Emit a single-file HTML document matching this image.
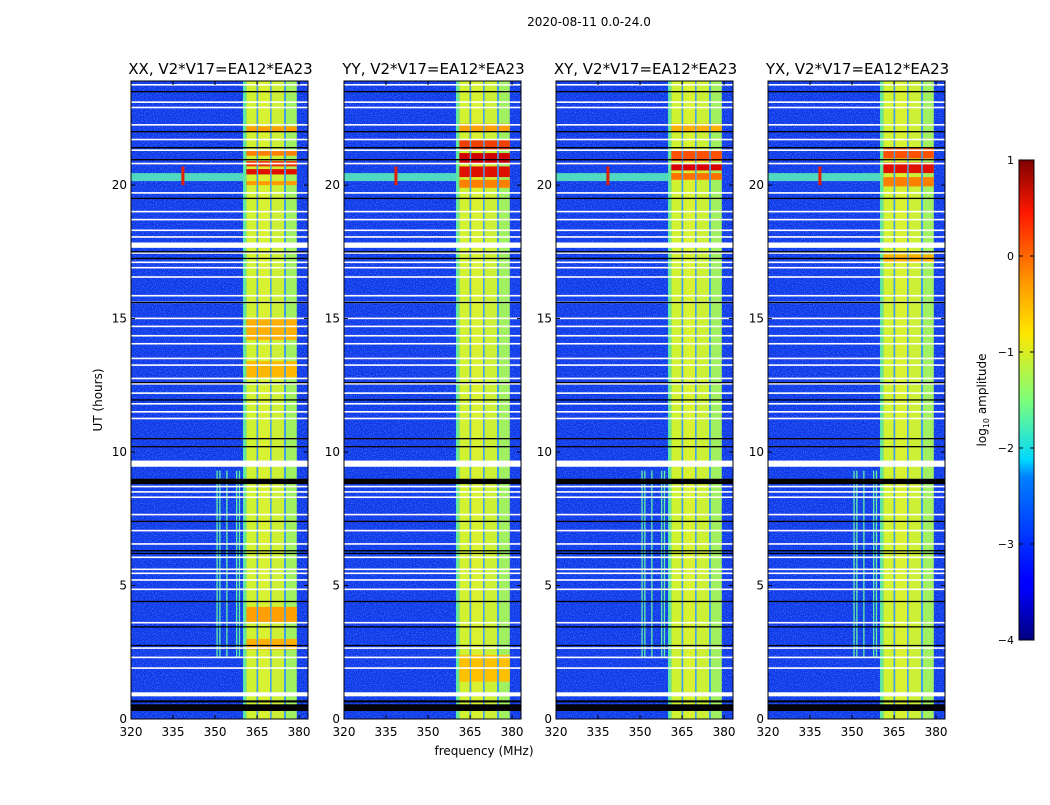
<!DOCTYPE html>
<html><head><meta charset="utf-8">
<style>
body{margin:0;background:#fff;}
svg text{font-family:"DejaVu Sans","Liberation Sans",sans-serif;fill:#000;}
</style></head>
<body>
<svg id="chart" width="1050" height="800" xmlns="http://www.w3.org/2000/svg">
<defs>
<linearGradient id="jet" x1="0" y1="1" x2="0" y2="0">
<stop offset="0" stop-color="#00007f"/><stop offset="0.11" stop-color="#0000ff"/>
<stop offset="0.125" stop-color="#0000ff"/><stop offset="0.34" stop-color="#0080ff"/>
<stop offset="0.375" stop-color="#00d8ff"/><stop offset="0.5" stop-color="#7dff7a"/>
<stop offset="0.64" stop-color="#ffe600"/><stop offset="0.75" stop-color="#ff9400"/>
<stop offset="0.89" stop-color="#ff1800"/><stop offset="1" stop-color="#7f0000"/>
</linearGradient>
<filter id="noise" x="0" y="0" width="1" height="1">
<feTurbulence type="fractalNoise" baseFrequency="0.9" numOctaves="1" seed="3"/>
<feColorMatrix values="0 0 0 0 0.15  0 0 0 0 0.45  0 0 0 0 1  0 0 0 1.4 -0.6"/>
<feComposite in2="SourceGraphic" operator="in"/>
</filter>
</defs>
<text x="589" y="26" font-size="12" text-anchor="middle">2020-08-11 0.0-24.0</text>
<text x="484" y="755" font-size="12" text-anchor="middle">frequency (MHz)</text>
<text transform="translate(102,400) rotate(-90)" font-size="12" text-anchor="middle">UT (hours)</text>
<g id="panels"></g>
<g id="cbar"></g>
</svg>
<script>
const panelTitles = ["XX, V2*V17=EA12*EA23","YY, V2*V17=EA12*EA23","XY, V2*V17=EA12*EA23","YX, V2*V17=EA12*EA23"];
const xTicks = [320,335,350,365,380];
const yTicks = [0,5,10,15,20];
const freqRange = [320,383.2];
const timeRange = [0,23.9];
const bandSegments = [[360,361.2,"#5ee8a0"],[361.2,364.9,"#d0f230"],[364.9,365.4,"#3aa0ff"],[365.4,369.7,"#d8f232"],[369.7,370.2,"#40a8ff"],[370.2,374.7,"#ccf035"],[374.7,375.3,"#38a0ff"],[375.3,379.2,"#a0f060"]];
const whiteLines = [23.75,23.1,22.9,22.25,21.7,21.3,20.8,19.7,19.0,18.7,18.3,18.05,17.45,17.1,16.9,16.55,15.85,15.6,15.0,14.7,14.35,14.05,13.5,13.25,12.75,12.55,12.2,11.8,11.5,11.25,8.7,8.5,8.3,7.65,7.05,6.55,6.05,5.6,5.45,5.2,4.85,3.6,2.65,2.3,1.9];
const whiteBands = [[17.65,17.85],[9.45,9.68],[0.85,1.0]];
const blackLines = [23.5,22.0,21.4,20.95,19.5,17.5,17.25,15.6,12.6,11.95,10.5,10.2,7.4,6.3,6.2,4.4,3.45,2.75];
const blackBands = [[8.8,9.0],[0.3,0.55],[0.62,0.7]];
const rfiFreqs = [350.5,351.5,354,357.5,358.5];
const rfiTime = [2.3,9.3];
const hotRows = [
 [[20.0,20.15,"#ff9a00"],[20.4,20.6,"#e01000"],[20.7,20.9,"#f03000"],[21.1,21.3,"#ff8000"],[22.0,22.2,"#ffa000"],[14.2,15.0,"#ffb000"],[12.8,13.4,"#ffb800"],[3.6,4.2,"#ffa000"],[2.6,3.0,"#ffb000"]],
 [[19.9,20.2,"#ff8000"],[20.3,20.7,"#e01000"],[20.8,21.2,"#d00000"],[21.3,21.7,"#f04000"],[22.0,22.3,"#ffa000"],[1.4,2.4,"#ffc000"]],
 [[20.2,20.45,"#ff7000"],[20.55,20.8,"#d80000"],[20.9,21.3,"#ff5000"],[22.0,22.3,"#ffb000"]],
 [[19.95,20.3,"#ff8000"],[20.45,20.85,"#e01000"],[21.0,21.4,"#ff5000"],[17.1,17.4,"#ffb000"]]
];
const cbTicks = [1,0,-1,-2,-3,-4];
const cbRange = [-4,1];

const NS="http://www.w3.org/2000/svg";
const panelsG=document.getElementById("panels");
const PL=[131,344,556,768], PW=177, PT=81, PB=719;
function mk(tag,attrs,parent){const e=document.createElementNS(NS,tag);for(const k in attrs)e.setAttribute(k,attrs[k]);parent.appendChild(e);return e;}
panelTitles.forEach((title,p)=>{
  const x0=PL[p];
  const xs=f=>x0+(f-freqRange[0])/(freqRange[1]-freqRange[0])*PW;
  const ys=t=>PB-(t-timeRange[0])/(timeRange[1]-timeRange[0])*(PB-PT);
  const g=mk("g",{},panelsG);
  
  
  const bg=mk("rect",{x:x0,y:PT,width:PW,height:PB-PT,fill:"#0c34e8"},g);
  
  
  mk("rect",{x:x0,y:PT,width:PW,height:PB-PT,fill:"#000",filter:"url(#noise)"},g);
  const gl=mk("rect",{x:xs(320),y:ys(20.45),width:xs(360)-xs(320),height:ys(20.15)-ys(20.45),fill:"#50d8c0"},g);
  
  
  mk("rect",{x:xs(338),y:ys(20.7),width:3,height:ys(20.0)-ys(20.7),fill:"#e02000"},g);
  bandSegments.forEach(s=>{
    const r=mk("rect",{x:xs(s[0]),y:PT,width:xs(s[1])-xs(s[0]),height:PB-PT,fill:s[2]},g);
    
    
  });
  if(p!==1) rfiFreqs.forEach(f=>{
    const r=mk("rect",{x:xs(f),y:ys(rfiTime[1]),width:1.3,height:ys(rfiTime[0])-ys(rfiTime[1]),fill:"#60f0a0"},g);
    
    
  });
  hotRows[p].forEach(h=>{
    bandSegments.forEach(s=>{ if(s[2].indexOf("#3")===0||s[2].indexOf("#4")===0||s[2].indexOf("#5")===0) return;
      const r=mk("rect",{x:xs(s[0]),y:ys(h[1]),width:xs(s[1])-xs(s[0]),height:ys(h[0])-ys(h[1]),fill:h[2]},g);
      
      
    });
  });
  whiteLines.forEach(t=>{const r=mk("rect",{x:x0,y:ys(t)-1,width:PW,height:1.6,fill:"#fff"},g);
    
    });
  whiteBands.forEach(b=>{const r=mk("rect",{x:x0,y:ys(b[1]),width:PW,height:ys(b[0])-ys(b[1]),fill:"#fff"},g);
    
    });
  blackLines.forEach(t=>{const r=mk("rect",{x:x0,y:ys(t)-0.7,width:PW,height:1.3,fill:"#000"},g);
    
    });
  blackBands.forEach(b=>{const r=mk("rect",{x:x0,y:ys(b[1]),width:PW,height:ys(b[0])-ys(b[1]),fill:"#000"},g);
    
    });
  const fr=mk("rect",{x:x0,y:PT,width:PW,height:PB-PT,fill:"none",stroke:"#000","stroke-width":1},g);
  
  
  xTicks.forEach(v=>{const x=xs(v);
    mk("line",{x1:x,x2:x,y1:PB,y2:PB-4,stroke:"#000"},g);mk("line",{x1:x,x2:x,y1:PT,y2:PT+4,stroke:"#000"},g);
    const t=mk("text",{x:x,y:PB+17,"font-size":12,"text-anchor":"middle"},g);t.textContent=v;
    
    });
  yTicks.forEach(v=>{const y=ys(v);
    mk("line",{x1:x0,x2:x0+4,y1:y,y2:y,stroke:"#000"},g);mk("line",{x1:x0+PW,x2:x0+PW-4,y1:y,y2:y,stroke:"#000"},g);
    const t=mk("text",{x:x0-4,y:y+4,"font-size":12,"text-anchor":"end"},g);t.textContent=v;
    
    });
  const tt=mk("text",{x:x0+PW/2+1,y:74,"font-size":15,"text-anchor":"middle"},g);tt.textContent=title;
  
  
});
const cb=document.getElementById("cbar");
const CX=1019,CW=15,CT=160,CB=640;
mk("rect",{x:CX,y:CT,width:CW,height:CB-CT,fill:"url(#jet)",stroke:"#000"},cb);
const cy=v=>CB-(v-cbRange[0])/(cbRange[1]-cbRange[0])*(CB-CT);
cbTicks.forEach(v=>{const y=cy(v);
  mk("line",{x1:CX,x2:CX+4,y1:y,y2:y,stroke:"#000"},cb);mk("line",{x1:CX+CW,x2:CX+CW-4,y1:y,y2:y,stroke:"#000"},cb);
  const t=mk("text",{x:CX-5,y:y+4,"font-size":11,"text-anchor":"end"},cb);t.textContent=v<0?"\u2212"+(-v):v;
  
  });
const lab=mk("text",{transform:"translate(986,400) rotate(-90)","font-size":12,"text-anchor":"middle"},cb);


lab.innerHTML='log<tspan font-size="8" dy="3">10</tspan><tspan dy="-3"> amplitude</tspan>';
</script>
</body></html>
